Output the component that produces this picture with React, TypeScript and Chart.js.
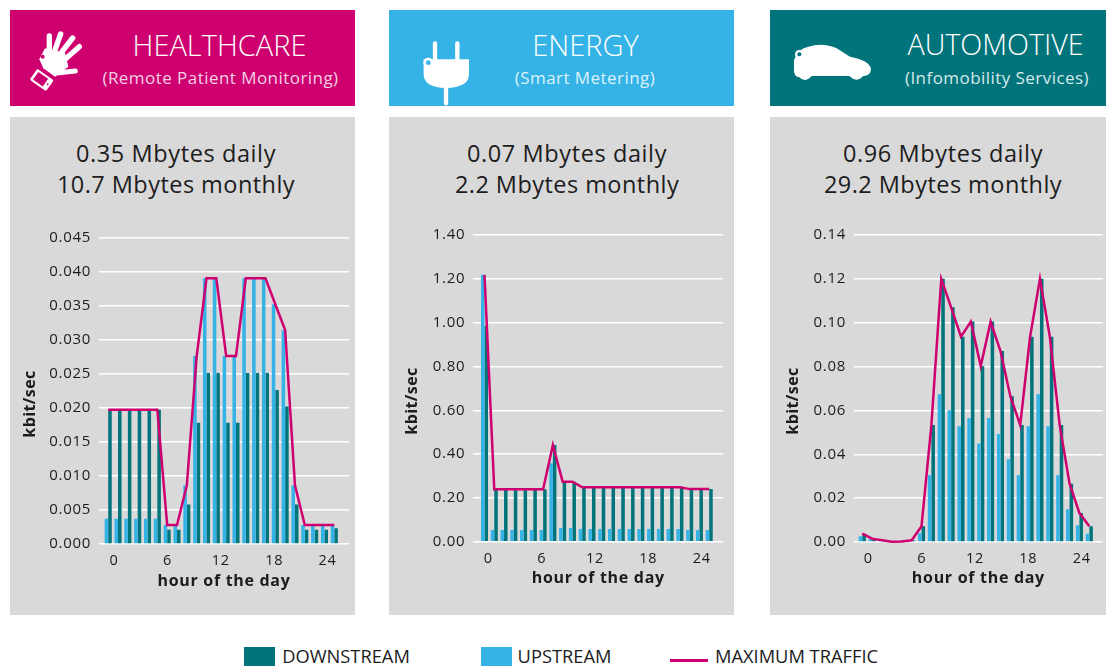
import React, { useEffect, useRef } from "react";
import { Chart, registerables } from "chart.js";

Chart.register(...registerables);

const hours = [0,1,2,3,4,5,6,7,8,9,10,11,12,13,14,15,16,17,18,19,20,21,22,23];
const hourTicks = [0, 6, 12, 18, 24];

const healthDown = [.0197,.0197,.0197,.0197,.0197,.0197,.0021,.0021,.0058,.0178,.0251,.0251,.0178,.0178,.0251,.0251,.0251,.0226,.0202,.0058,.0021,.0021,.0021,.0023];
const healthUp = [.0037,.0037,.0037,.0037,.0037,.0037,.0028,.0028,.0086,.0276,.039,.039,.0276,.0276,.039,.039,.039,.0352,.0314,.0086,.0028,.0028,.0028,.0028];
const healthMax = [.0197,.0197,.0197,.0197,.0197,.0197,.0028,.0028,.0086,.0276,.039,.039,.0276,.0276,.039,.039,.039,.0352,.0314,.0086,.0028,.0028,.0028,.0028];

const energyDown = [.985,.239,.239,.239,.239,.239,.239,.441,.274,.274,.248,.248,.248,.248,.248,.248,.248,.248,.248,.248,.248,.24,.24,.24];
const energyUp = [1.218,.053,.053,.053,.053,.053,.053,.358,.062,.062,.058,.058,.058,.058,.058,.058,.058,.058,.058,.058,.058,.053,.053,.053];
const energyMax = [1.218,.239,.239,.239,.239,.239,.239,.441,.274,.274,.248,.248,.248,.248,.248,.248,.248,.248,.248,.248,.248,.24,.24,.24];

const autoDown = [.0038,.0015,.0008,.0001,.0002,.0008,.0072,.0533,.12,.107,.0936,.1005,.0802,.1005,.0871,.0665,.0533,.0936,.12,.0936,.0533,.0266,.0132,.0072];
const autoUp = [.0026,.0012,.0007,.0001,.0002,.0006,.004,.0304,.0674,.0601,.0528,.0565,.0449,.0565,.0492,.0377,.0304,.0528,.0674,.0528,.0304,.0149,.0076,.0038];
const autoMax = [.0038,.0015,.0008,.0001,.0002,.0008,.0072,.0533,.12,.107,.0936,.1005,.0802,.1005,.0871,.0665,.0533,.0936,.12,.0936,.0533,.0266,.0132,.0072];

const MAGENTA = "#CE0070";
const BLUE = "#35B3E6";
const TEAL = "#00747A";
const GREY = "#D9D9D9";
const FONT = "'Open Sans', sans-serif";
const INK = "#1c1c1c";

type Cfg = {
  down: number[]; up: number[]; max: number[];
  yMax: number; step: number; dec: number;
  panelLeft: number; panelW: number;
  plotLeft: number; plotRight: number; plotTop: number; plotBottom: number;
  canvasBottom: number;
  group0: number; groupGap: number; tick0: number; tickGap: number;
  titleX: number; titleY: number;
};

const CANVAS_TOP = 200;

const HEALTH: Cfg = { down: healthDown, up: healthUp, max: healthMax, yMax: .045, step: .005, dec: 3,
  panelLeft: 10, panelW: 345, plotLeft: 99, plotRight: 349, plotTop: 237.5, plotBottom: 544, canvasBottom: 591,
  group0: 108.2, groupGap: 9.83, tick0: 114, tickGap: 8.9, titleX: 30, titleY: 404 };
const ENERGY: Cfg = { down: energyDown, up: energyUp, max: energyMax, yMax: 1.4, step: .2, dec: 2,
  panelLeft: 389, panelW: 345, plotLeft: 473.3, plotRight: 723.3, plotTop: 235, plotBottom: 541.7, canvasBottom: 588,
  group0: 484.5, groupGap: 9.77, tick0: 488.3, tickGap: 8.89, titleX: 412, titleY: 401 };
const AUTO: Cfg = { down: autoDown, up: autoUp, max: autoMax, yMax: .14, step: .02, dec: 2,
  panelLeft: 770, panelW: 336, plotLeft: 854, plotRight: 1102.7, plotTop: 235, plotBottom: 542, canvasBottom: 588,
  group0: 862.3, groupGap: 9.87, tick0: 868.3, tickGap: 8.89, titleX: 793, titleY: 401 };

function Panel({ cfg }: { cfg: Cfg }) {
  const ref = useRef<HTMLCanvasElement>(null);
  useEffect(() => {
    const c = cfg;
    const canvas = ref.current!;
    const chart = new Chart(canvas, {
      type: "bar",
      data: {
        labels: hours,
        datasets: [
          { type: "line", label: "MAXIMUM TRAFFIC", data: c.max, xAxisID: "xb", yAxisID: "y", borderColor: MAGENTA, borderWidth: 2.5, pointRadius: 0, tension: 0, order: 0, fill: false, clip: false },
          { type: "bar", label: "UPSTREAM", data: c.up, xAxisID: "xb", yAxisID: "y", backgroundColor: BLUE, order: 1, categoryPercentage: .72, barPercentage: 1 },
          { type: "bar", label: "DOWNSTREAM", data: c.down, xAxisID: "xb", yAxisID: "y", backgroundColor: TEAL, order: 2, categoryPercentage: .72, barPercentage: 1 },
        ] as any,
      },
      options: {
        responsive: false,
        animation: false,
        layout: { padding: { top: c.plotTop - CANVAS_TOP, right: c.panelLeft + c.panelW - c.plotRight, bottom: 0, left: 0 } },
        plugins: { legend: { display: false }, tooltip: { enabled: false } },
        scales: {
          xb: {
            axis: "x", type: "linear", display: false, position: "bottom", bounds: "data", offset: false,
            min: (c.plotLeft - c.group0) / c.groupGap,
            max: (c.plotRight - c.group0) / c.groupGap,
            afterBuildTicks: (s: any) => { s.ticks = hours.map((value) => ({ value })); },
            grid: { offset: false },
          },
          x: {
            axis: "x", type: "linear", position: "bottom", bounds: "data", offset: false,
            min: (c.plotLeft - c.tick0) / c.tickGap,
            max: (c.plotRight - c.tick0) / c.tickGap,
            afterBuildTicks: (s: any) => { s.ticks = hourTicks.map((value) => ({ value })); },
            afterFit: (s: any) => { s.height = c.canvasBottom - c.plotBottom; },
            grid: { display: false, offset: false },
            border: { display: false },
            ticks: { color: INK, font: { family: FONT, size: 14.5 }, padding: 0, maxRotation: 0, autoSkip: false, callback: (v: any) => String(v) },
            title: { display: true, text: "hour of the day", color: INK, font: { family: FONT, size: 16, weight: "bold" }, padding: 0 },
          },
          y: {
            type: "linear", position: "left", min: 0, max: c.yMax,
            afterFit: (s: any) => { s.width = c.plotLeft - c.panelLeft; },
            grid: { color: "#FFFFFF", lineWidth: 1.5, drawTicks: false },
            border: { display: false },
            ticks: { stepSize: c.step, color: INK, font: { family: FONT, size: 15 }, padding: 8, callback: (v: any) => Number(v).toFixed(c.dec) },
          },
        },
      } as any,
      plugins: [
        {
          id: "spacing",
          beforeDraw(ch: any) { ch.ctx.letterSpacing = "0.7px"; },
        },
        {
          id: "yTitle",
          afterDraw(ch: any) {
            const ctx = ch.ctx;
            ctx.save();
            ctx.letterSpacing = "0.4px";
            ctx.translate(c.titleX - c.panelLeft, c.titleY - CANVAS_TOP);
            ctx.rotate(-Math.PI / 2);
            ctx.font = `bold 16px ${FONT}`;
            ctx.fillStyle = INK;
            ctx.textAlign = "center";
            ctx.textBaseline = "middle";
            ctx.fillText("kbit/sec", 0, 0);
            ctx.restore();
          },
        },
      ],
    });
    return () => chart.destroy();
  }, [cfg]);
  return (
    <canvas
      ref={ref}
      width={cfg.panelW}
      height={cfg.canvasBottom - CANVAS_TOP}
      style={{ position: "absolute", left: cfg.panelLeft, top: CANVAS_TOP, width: cfg.panelW, height: cfg.canvasBottom - CANVAS_TOP, display: "block" }}
    />
  );
}

function Txt({ x, y, size, weight = 400, color, spacing = 0, children }: any) {
  return (
    <div style={{ position: "absolute", left: x, top: y, transform: "translate(-50%, -50%)", whiteSpace: "nowrap", fontFamily: FONT, fontSize: size, fontWeight: weight, color, letterSpacing: spacing, lineHeight: 1 }}>
      {children}
    </div>
  );
}

function Box({ x, y, w, h, bg }: any) {
  return <div style={{ position: "absolute", left: x, top: y, width: w, height: h, background: bg }} />;
}

function Icons() {
  return (
    <>
      <svg style={{ position: "absolute", left: 0, top: 0 }} width={370} height={110} viewBox="0 0 1110 330">
        <g stroke="#fff" strokeLinecap="round" fill="none">
          <path d="M148 108V150M182 102L165 150M218 114L186 155M238 140L195 178" strokeWidth="16" />
          <path d="M226 213L170 219" strokeWidth="15" />
        </g>
        <path d="M135 145L195 158L205 200L165 230L130 205L118 178Z" fill="#fff" />
        <circle cx="128" cy="170" r="6" fill={MAGENTA} />
        <path d="M95 222L155 262" stroke={MAGENTA} strokeWidth="5" />
        <g transform="translate(125 240) rotate(35)">
          <rect x="-30" y="-20" width="60" height="40" rx="5" fill="#fff" />
          <rect x="-22" y="-14" width="36" height="28" fill={MAGENTA} />
          <circle cx="22" cy="0" r="3" fill={MAGENTA} />
        </g>
      </svg>
      <svg style={{ position: "absolute", left: 385, top: 0 }} width={200} height={110} viewBox="0 0 600 330">
        <path d="M150 130V180M217 130V180" stroke="#fff" strokeWidth="13" strokeLinecap="round" />
        <path d="M183 262V310" stroke="#fff" strokeWidth="13" strokeLinecap="round" />
        <path d="M116 178H252V225Q250 262 183 264Q118 262 116 225Z" fill="#fff" />
        <circle cx="130" cy="188" r="15" fill="#fff" />
        <circle cx="130" cy="188" r="7" fill={BLUE} />
      </svg>
      <svg style={{ position: "absolute", left: 770, top: 0 }} width={130} height={110} viewBox="0 0 390 330">
        <path d="M72 180Q85 145 115 140Q160 126 200 145L240 170Q295 180 303 205Q303 228 280 228Q260 250 238 228H125Q105 250 88 232Q72 232 72 210Z" fill="#fff" />
        <circle cx="88" cy="163" r="13" fill="#fff" />
        <circle cx="88" cy="163" r="6" fill={TEAL} />
      </svg>
    </>
  );
}

export default function App() {
  return (
    <div style={{ position: "absolute", left: 0, top: 0, width: 1106, height: 666, overflow: "hidden", background: "#fff" }}>
      <Box x={10} y={10} w={345} h={96} bg={MAGENTA} />
      <Box x={389} y={10} w={345} h={96} bg={BLUE} />
      <Box x={770} y={10} w={336} h={96} bg={TEAL} />
      <Box x={10} y={117} w={345} h={498} bg={GREY} />
      <Box x={389} y={117} w={345} h={498} bg={GREY} />
      <Box x={770} y={117} w={336} h={498} bg={GREY} />
      <Icons />

      <Txt x={219.5} y={44} size={29} weight={300} color="#fff">HEALTHCARE</Txt>
      <Txt x={220.5} y={77} size={17} color="#F4D0E4" spacing={0.45}>(Remote Patient Monitoring)</Txt>
      <Txt x={585.5} y={44} size={29} weight={300} color="#fff">ENERGY</Txt>
      <Txt x={585} y={77} size={17} color="#DDF2FB" spacing={0.45}>(Smart Metering)</Txt>
      <Txt x={995.5} y={44} size={28.7} weight={300} color="#fff">AUTOMOTIVE</Txt>
      <Txt x={997} y={77} size={17} color="#D5EAEB" spacing={0.45}>(Infomobility Services)</Txt>

      <Txt x={176} y={153.5} size={23.5} color={INK} spacing={0.6}>0.35 Mbytes daily</Txt>
      <Txt x={176} y={185} size={23.5} color={INK} spacing={0.45}>10.7 Mbytes monthly</Txt>
      <Txt x={567} y={153.5} size={23.5} color={INK} spacing={0.6}>0.07 Mbytes daily</Txt>
      <Txt x={567} y={185} size={23.5} color={INK} spacing={0.45}>2.2 Mbytes monthly</Txt>
      <Txt x={943} y={153.5} size={23.5} color={INK} spacing={0.6}>0.96 Mbytes daily</Txt>
      <Txt x={943} y={185} size={23.5} color={INK} spacing={0.45}>29.2 Mbytes monthly</Txt>

      <Panel cfg={HEALTH} />
      <Panel cfg={ENERGY} />
      <Panel cfg={AUTO} />

      <Box x={244} y={647} w={31} h={19} bg={TEAL} />
      <Txt x={346} y={656} size={18.3} color={INK}>DOWNSTREAM</Txt>
      <Box x={481} y={647} w={31} h={19} bg={BLUE} />
      <Txt x={564.5} y={656} size={18.3} color={INK}>UPSTREAM</Txt>
      <Box x={670} y={659} w={38} h={2.5} bg={MAGENTA} />
      <Txt x={796.5} y={656} size={18.3} color={INK}>MAXIMUM TRAFFIC</Txt>
    </div>
  );
}
